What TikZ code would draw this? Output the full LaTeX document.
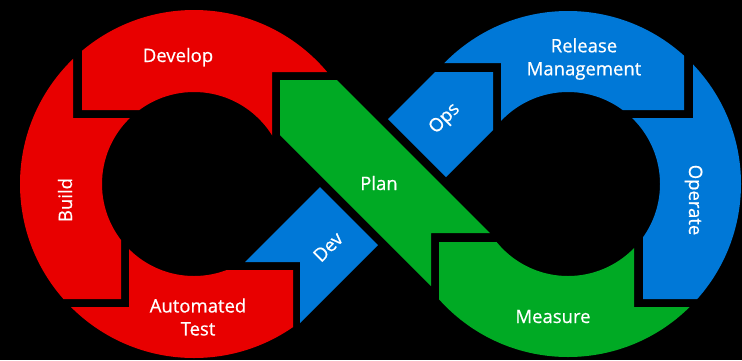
\documentclass[tikz,border=0pt]{standalone}
\usepackage{fontspec}
\setmainfont{Open Sans}
\newfontfamily\labelfont{Open Sans}[FakeBold=0.6]
\definecolor{devred}{RGB}{232,0,0}
\definecolor{opsblue}{RGB}{0,120,215}
\definecolor{plangreen}{RGB}{0,170,36}
\begin{document}
\begin{tikzpicture}[x=1pt,y=-1pt,
  lbl/.style={text=white,font=\labelfont\fontsize{18.5}{23}\selectfont,align=center,inner sep=0pt},
  ringL/.style={fill=devred,even odd rule},
  ringR/.style={fill=opsblue,even odd rule},
]
% canvas
\fill[black] (0,0) rectangle (742,360);
\useasboundingbox (0,0) rectangle (742,360);
\coordinate (L) at (194,184);
\coordinate (R) at (568,184);

% ---- left loop (red) ----
% Develop
\begin{scope}
  \clip (82,110) -- (82,-20) -- (400,-20) -- (400,72) -- (272,72) -- (272,150) -- (194,150) -- (194,110) -- cycle;
  \path[ringL] (L) circle[radius=174] (L) circle[radius=92];
\end{scope}
% Build
\begin{scope}
  \clip (73,-20) -- (73,118) -- (194,118) -- (194,184) -- (121,184) -- (121,299) -- (-20,299) -- (-20,-20) -- cycle;
  \path[ringL] (L) circle[radius=174] (L) circle[radius=92];
\end{scope}
% Automated Test
\begin{scope}
  \clip (129,184) -- (129,307) -- (-20,307) -- (-20,400) -- (293,400) -- (293,270) -- (194,270) -- (194,184) -- cycle;
  \path[ringL] (L) circle[radius=174] (L) circle[radius=92];
\end{scope}

% ---- right loop (blue) ----
% Release Management
\begin{scope}
  \clip (501,184) -- (501,63) -- (380,63) -- (380,-20) -- (684,-20) -- (684,110) -- (568,110) -- (568,184) -- cycle;
  \path[ringR] (R) circle[radius=173] (R) circle[radius=92];
\end{scope}
% Operate
\begin{scope}
  \clip (693,-20) -- (800,-20) -- (800,299) -- (643,299) -- (643,184) -- (568,184) -- (568,118) -- (693,118) -- cycle;
  \path[ringR] (R) circle[radius=173] (R) circle[radius=92];
\end{scope}
% Measure (green part of the right loop)
\begin{scope}
  \clip (439,242) -- (439,400) -- (800,400) -- (800,307) -- (634,307) -- (634,184) -- (568,184) -- (568,242) -- cycle;
  \path[fill=plangreen,even odd rule] (R) circle[radius=173] (R) circle[radius=92];
\end{scope}

% ---- crossing bands ----
% Plan
\fill[plangreen] (280,80) -- (337,80) -- (490,233) -- (431,233) -- (431,286) -- (280,135) -- cycle;
% Dev
\fill[opsblue] (245,262) -- (300,262) -- (300,323) -- (378,245) -- (320,187) -- cycle;
% Ops
\fill[opsblue] (388,119) -- (435,72) -- (493,72) -- (493,130) -- (446,177) -- cycle;

% ---- labels ----
\node[lbl,anchor=base] (develop) at (178,62) {Develop};
\node[lbl] (release) at (584,59) {Release\\Management};
\node[lbl,rotate=45] (ops) at (445,119) {Ops};
\node[lbl,anchor=base] (plan) at (379,190) {Plan};
\node[lbl,rotate=45] (dev) at (328,247) {Dev};
\node[lbl,anchor=base,rotate=90] (build) at (72,200) {Build};
\node[lbl] (autotest) at (198,317) {Automated\\Test};
\node[lbl,anchor=base] (measure) at (553,323) {Measure};
\node[lbl,anchor=base,rotate=-90] (operate) at (689,200) {Operate};
\end{tikzpicture}
\end{document}
